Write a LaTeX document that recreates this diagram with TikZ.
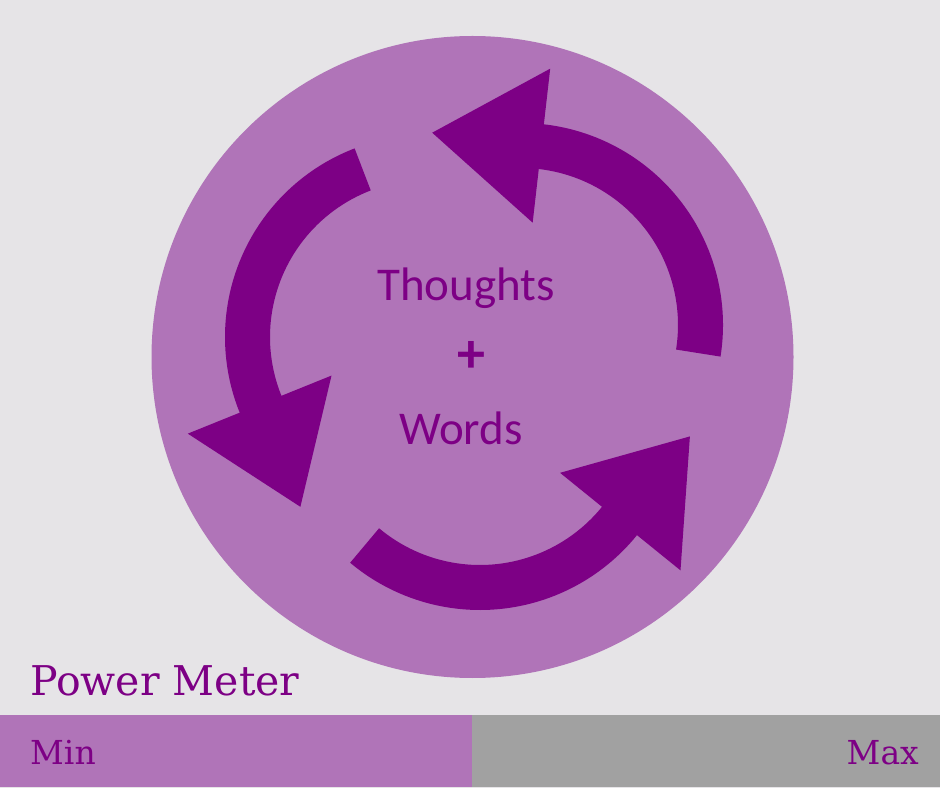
\documentclass[tikz,border=0pt]{standalone}
\usepackage{fontspec}
\usepackage{tikz}
\usetikzlibrary{calc}
\newfontfamily\meterfont{DejaVu Serif}
\newfontfamily\handfont{Carlito}
\definecolor{meterbg}{RGB}{230,228,231}
\definecolor{meterlight}{RGB}{176,116,184}
\definecolor{meterdark}{RGB}{125,0,133}
\definecolor{metergray}{RGB}{161,161,161}

\begin{document}
\begin{tikzpicture}[x=1pt, y=1pt,
hand/.style={inner sep=0pt, text=meterdark, font=\handfont\fontsize{47}{56}\selectfont},
title/.style={inner sep=0pt, text=meterdark, font=\meterfont\fontsize{41}{49}\selectfont},
bartext/.style={inner sep=0pt, text=meterdark, font=\meterfont\fontsize{33}{40}\selectfont},
cycarrow/.style={fill=meterdark}
]

\fill[meterbg] (0,0) rectangle (940,788);
\useasboundingbox (0,0) rectangle (940,788);

\coordinate (mid) at (472.5,431);
\fill[meterlight] (mid) circle[radius=321pt];

\coordinate (cl) at (427,451);
\coordinate (cb) at (480,380);
\coordinate (cr) at (521,463);

% three arrows of the cycle
\fill[cycarrow] ($(cl)+(111:202pt)$) arc[start angle=111, end angle=202, radius=202pt]
  -- ($(cl)+(202:258pt)$) -- ($(cl)+(202:181pt)+(292:110pt)$) -- ($(cl)+(202:103pt)$)
  -- ($(cl)+(202:157pt)$) arc[start angle=202, end angle=111, radius=157pt] -- cycle;
\fill[cycarrow] ($(cb)+(230:202pt)$) arc[start angle=230, end angle=321, radius=202pt]
  -- ($(cb)+(321:258pt)$) -- ($(cb)+(321:181pt)+(51:110pt)$) -- ($(cb)+(321:103pt)$)
  -- ($(cb)+(321:157pt)$) arc[start angle=321, end angle=230, radius=157pt] -- cycle;
\fill[cycarrow] ($(cr)+(-9:202pt)$) arc[start angle=-9, end angle=83.5, radius=202pt]
  -- ($(cr)+(83.5:258pt)$) -- ($(cr)+(83.5:181pt)+(173.5:110pt)$) -- ($(cr)+(83.5:103pt)$)
  -- ($(cr)+(83.5:157pt)$) arc[start angle=83.5, end angle=-9, radius=157pt] -- cycle;

\node[hand, anchor=base] (thoughts) at (466,487) {Thoughts};
\node[hand, font=\handfont\bfseries\fontsize{56}{64}\selectfont] (plus) at (471,431) {+};
\node[hand, anchor=base] (words) at (461,343) {Words};

% power meter bar
\fill[meterlight] (0,1.5) rectangle (471.7,73);
\fill[metergray] (471.7,1.5) rectangle (940,73);

\node[title, anchor=base west] (power) at (30,93) {Power Meter};
\node[bartext, anchor=base west] (min) at (30,24) {Min};
\node[bartext, anchor=base east] (max) at (919,24) {Max};

\end{tikzpicture}
\end{document}
